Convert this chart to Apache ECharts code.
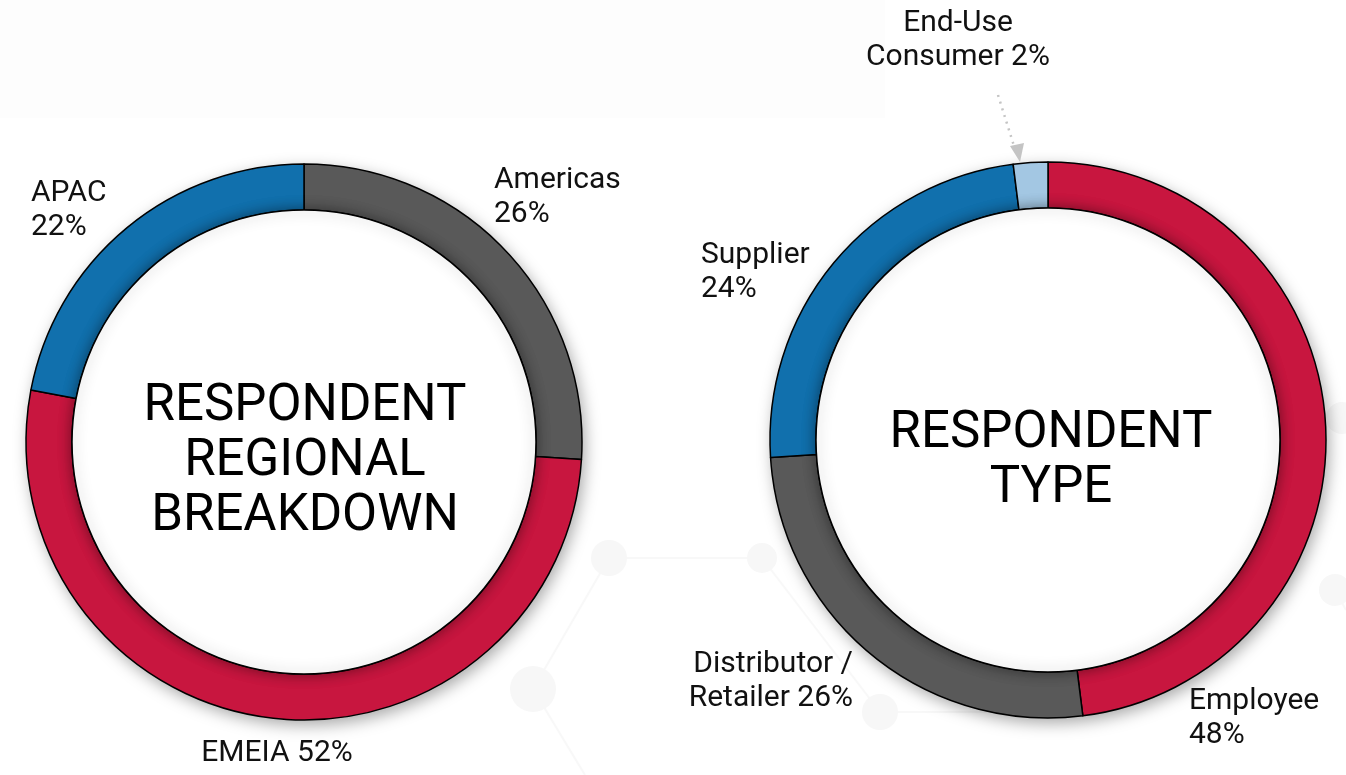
<!DOCTYPE html>
<html>
<head>
<meta charset="utf-8">
<script src="https://cdn.jsdelivr.net/npm/echarts@6/dist/echarts.min.js"></script>
<style>
html,body{margin:0;padding:0;background:#fff;}
#chart{width:1346px;height:775px;}
</style>
</head>
<body>
<div id="chart"></div>
<script>
// ---- Data ----
const regionNames = ['Americas', 'EMEIA', 'APAC'];
const regionValues = [26, 52, 22];
const regionSep = ['\n', ' ', '\n'];
const regionColors = ['#595959', '#C8163F', '#1170AD'];
const regionTitle = 'RESPONDENT\nREGIONAL\nBREAKDOWN';

const typeNames = ['Employee', 'Distributor /\nRetailer', 'Supplier', 'End-Use\nConsumer'];
const typeValues = [48, 26, 24, 2];
const typeSep = ['\n', ' ', '\n', ' '];
const typeColors = ['#C8163F', '#595959', '#1170AD', '#A3C7E3'];
const typeTitle = 'RESPONDENT\nTYPE';

// ---- Layout (positions / styles only) ----
const leftCenter = [304, 442];
const rightCenter = [1048, 440];
const R_OUT = 278, R_IN = 232;
const FONT = 'Roboto, "Noto Sans", sans-serif';

const regionLabelPos = [
  [494, 163, 'left'],   // Americas
  [277, 736, 'center'], // EMEIA
  [31, 176, 'left']     // APAC
];
const typeLabelPos = [
  [1189, 684, 'left'],  // Employee
  [853, 647, 'right'],  // Distributor
  [701, 238, 'left'],   // Supplier
  [958, 6, 'center']    // End-Use
];

function buildData(names, values, colors) {
  return names.map((n, i) => ({ name: n, value: values[i], itemStyle: { color: colors[i] } }));
}

function ringSeries(center, names, values, colors, seps, posList) {
  return [
    { // shadow underlay
      type: 'pie', center: center, radius: [R_IN, R_OUT], silent: true,
      label: { show: false }, labelLine: { show: false }, tooltip: { show: false },
      itemStyle: { color: '#ffffff', shadowBlur: 16, shadowColor: 'rgba(0,0,0,0.35)', shadowOffsetX: 3, shadowOffsetY: 5 },
      data: [{ value: 1, name: '' }]
    },
    {
      type: 'pie', center: center, radius: [R_IN, R_OUT], startAngle: 90, clockwise: true,
      avoidLabelOverlap: false, silent: true,
      itemStyle: { borderColor: '#000', borderWidth: 1.5 },
      label: {
        show: true, position: 'outside', color: '#111', fontFamily: FONT, fontSize: 30, lineHeight: 34,
        formatter: p => p.name + seps[p.dataIndex] + Math.round(p.percent) + '%'
      },
      labelLine: { show: false },
      labelLayout: p => {
        const q = posList[p.dataIndex];
        return { x: q[0], y: q[1], align: q[2], verticalAlign: 'top' };
      },
      data: buildData(names, values, colors)
    },
    { // inner white disc with soft shadow
      type: 'pie', center: center, radius: [0, R_IN], silent: true,
      label: { show: false }, labelLine: { show: false }, tooltip: { show: false },
      itemStyle: { color: '#ffffff', borderColor: '#000', borderWidth: 1.5, shadowBlur: 14, shadowColor: 'rgba(0,0,0,0.45)' },
      data: [{ value: 1, name: '' }]
    }
  ];
}

const bgFill = '#f7f7f7';
const bgLine = '#f8f8f8';
const bgElems = [
  { type: 'rect', shape: { x: 0, y: 0, width: 885, height: 118 }, style: { fill: '#fdfdfd' }, z: -10 },
  { type: 'line', shape: { x1: 609, y1: 558, x2: 762, y2: 558 }, style: { stroke: bgLine, lineWidth: 2 }, z: -9 },
  { type: 'line', shape: { x1: 609, y1: 558, x2: 533, y2: 689 }, style: { stroke: bgLine, lineWidth: 2 }, z: -9 },
  { type: 'line', shape: { x1: 762, y1: 558, x2: 880, y2: 712 }, style: { stroke: bgLine, lineWidth: 2 }, z: -9 },
  { type: 'line', shape: { x1: 533, y1: 689, x2: 585, y2: 775 }, style: { stroke: bgLine, lineWidth: 2 }, z: -9 },
  { type: 'line', shape: { x1: 880, y1: 712, x2: 1000, y2: 712 }, style: { stroke: bgLine, lineWidth: 2 }, z: -9 },
  { type: 'line', shape: { x1: 1335, y1: 590, x2: 1346, y2: 610 }, style: { stroke: bgLine, lineWidth: 2 }, z: -9 },
  { type: 'circle', shape: { cx: 609, cy: 558, r: 18 }, style: { fill: bgFill }, z: -9 },
  { type: 'circle', shape: { cx: 762, cy: 558, r: 15 }, style: { fill: bgFill }, z: -9 },
  { type: 'circle', shape: { cx: 533, cy: 689, r: 23 }, style: { fill: bgFill }, z: -9 },
  { type: 'circle', shape: { cx: 880, cy: 712, r: 18 }, style: { fill: bgFill }, z: -9 },
  { type: 'circle', shape: { cx: 1342, cy: 418, r: 16 }, style: { fill: bgFill }, z: -9 },
  { type: 'circle', shape: { cx: 1335, cy: 590, r: 16 }, style: { fill: bgFill }, z: -9 }
];

const option = {
  backgroundColor: '#ffffff',
  animation: false,
  tooltip: { show: false },
  series: [].concat(
    ringSeries(leftCenter, regionNames, regionValues, regionColors, regionSep, regionLabelPos),
    ringSeries(rightCenter, typeNames, typeValues, typeColors, typeSep, typeLabelPos)
  ),
  graphic: bgElems.concat([
    { type: 'text', x: leftCenter[0] + 1, y: 462, z: 100,
      style: { text: regionTitle, fill: '#000', fontFamily: FONT, fontSize: 51, lineHeight: 55,
               align: 'center', verticalAlign: 'middle', textAlign: 'center', textVerticalAlign: 'middle' } },
    { type: 'text', x: rightCenter[0] + 3, y: 462, z: 100,
      style: { text: typeTitle, fill: '#000', fontFamily: FONT, fontSize: 51, lineHeight: 55,
               align: 'center', verticalAlign: 'middle', textAlign: 'center', textVerticalAlign: 'middle' } },
    { type: 'line', z: 100, shape: { x1: 998, y1: 95, x2: 1014, y2: 146 },
      style: { stroke: '#c4c4c4', lineWidth: 2.5, lineDash: [2, 5] } },
    { type: 'polygon', z: 100, shape: { points: [[1010, 146], [1024, 143], [1020, 162]] },
      style: { fill: '#c4c4c4' } }
  ])
};

const chart = echarts.init(document.getElementById('chart'), null, { renderer: 'canvas' });
chart.setOption(option);
</script>
</body>
</html>
